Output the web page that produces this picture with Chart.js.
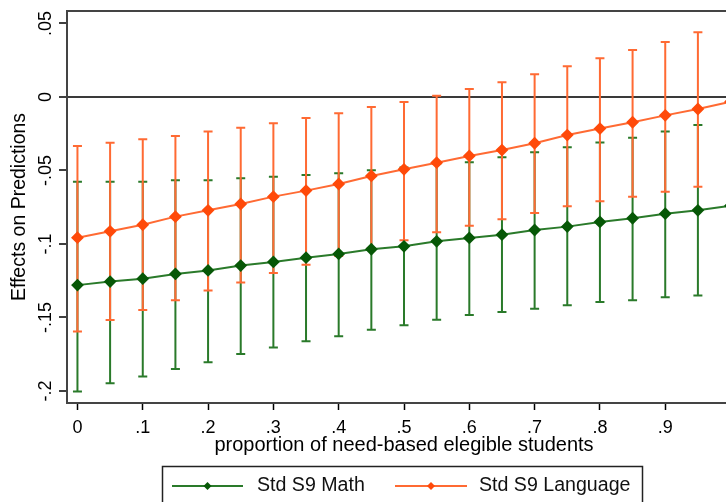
<!DOCTYPE html>
<html>
<head>
<meta charset="utf-8">
<script src="https://cdn.jsdelivr.net/npm/chart.js@4.4.1/dist/chart.umd.min.js"></script>
<style>
  html, body { margin: 0; padding: 0; background: #fff; overflow: hidden; }
  #wrap { width: 750px; height: 502px; }
</style>
</head>
<body>
<div id="wrap"><canvas id="effectsChart" width="750" height="502"></canvas></div>
<script>
// proportion of need-based eligible students (x)
const xValues = [0, 0.05, 0.1, 0.15, 0.2, 0.25, 0.3, 0.35, 0.4, 0.45, 0.5,
                 0.55, 0.6, 0.65, 0.7, 0.75, 0.8, 0.85, 0.9, 0.95, 1];

// Std S9 Math: estimate + CI
const mathEst = [-0.128, -0.1256, -0.1236, -0.1204, -0.118, -0.1147, -0.1122, -0.1093, -0.1068, -0.1036, -0.1016,
                 -0.0982, -0.0959, -0.0937, -0.0905, -0.0882, -0.085, -0.0825, -0.0794, -0.0771, -0.074];
const mathLo  = [-0.2004, -0.1948, -0.1902, -0.185, -0.1805, -0.1748, -0.1705, -0.1662, -0.1628, -0.1583, -0.1553,
                 -0.1515, -0.1483, -0.1463, -0.144, -0.1417, -0.1395, -0.1383, -0.1363, -0.1351, -0.1342];
const mathHi  = [-0.0576, -0.0576, -0.0576, -0.0567, -0.0567, -0.0553, -0.0542, -0.0531, -0.0519, -0.0499, -0.048,
                 -0.0456, -0.0444, -0.041, -0.0376, -0.0342, -0.031, -0.0277, -0.0234, -0.019, -0.0145];

// Std S9 Language: estimate + CI
const langEst = [-0.0957, -0.0914, -0.0869, -0.0814, -0.0771, -0.0728, -0.0678, -0.0637, -0.0592, -0.0537, -0.0492,
                 -0.0447, -0.0401, -0.0361, -0.0315, -0.0259, -0.0215, -0.0172, -0.0125, -0.0082, -0.0032];
const langLo  = [-0.1596, -0.1517, -0.1449, -0.1383, -0.1317, -0.1263, -0.1197, -0.1141, -0.1082, -0.1028, -0.0975,
                 -0.092, -0.0876, -0.0832, -0.0789, -0.0744, -0.071, -0.0678, -0.0644, -0.061, -0.0578];
const langHi  = [-0.0333, -0.0311, -0.0288, -0.0265, -0.0234, -0.0209, -0.0179, -0.0143, -0.0111, -0.0068, -0.0034,
                 0.0009, 0.0054, 0.01, 0.0154, 0.0209, 0.0263, 0.032, 0.0374, 0.044, 0.0497];

const xTickValues = [0, 0.1, 0.2, 0.3, 0.4, 0.5, 0.6, 0.7, 0.8, 0.9, 1];
const xTickLabels = ['0', '.1', '.2', '.3', '.4', '.5', '.6', '.7', '.8', '.9', '1'];
const yTickValues = [-0.2, -0.15, -0.1, -0.05, 0, 0.05];
const yTickLabels = ['-.2', '-.15', '-.1', '-.05', '0', '.05'];

const FONT = "'Liberation Sans', Arial, sans-serif";
const GREEN = '#2a7a2a', GREEN_DARK = '#075807';
const ORANGE = '#ff6a33', ORANGE_DARK = '#ff4a0a';

Chart.defaults.font.family = FONT;
Chart.defaults.color = '#000';

// confidence interval caps, drawn under the lines
const errorBars = {
  id: 'errorBars',
  beforeDatasetsDraw(chart) {
    const { ctx, chartArea: a, scales: { x, y } } = chart;
    ctx.save();
    // plot frame
    ctx.strokeStyle = '#444';
    ctx.lineWidth = 2;
    ctx.strokeRect(a.left, a.top, a.right - a.left, a.bottom - a.top);
    chart.data.datasets.forEach(ds => {
      ctx.strokeStyle = ds.borderColor;
      ctx.lineWidth = 2;
      ds.data.forEach((p, i) => {
        const px = x.getPixelForValue(p.x);
        const lo = y.getPixelForValue(ds.ciLow[i]);
        const hi = y.getPixelForValue(ds.ciHigh[i]);
        ctx.beginPath();
        ctx.moveTo(px, lo); ctx.lineTo(px, hi);
        ctx.moveTo(px - 4.5, lo); ctx.lineTo(px + 4.5, lo);
        ctx.moveTo(px - 4.5, hi); ctx.lineTo(px + 4.5, hi);
        ctx.stroke();
      });
    });
    ctx.restore();
  },
  afterDraw(chart) {
    const { ctx, scales: { y } } = chart;
    ctx.save();
    // rotated y tick labels
    ctx.font = '18px ' + FONT;
    ctx.fillStyle = '#000';
    ctx.textAlign = 'center';
    ctx.textBaseline = 'alphabetic';
    yTickValues.forEach((v, i) => {
      ctx.save();
      ctx.translate(51, y.getPixelForValue(v));
      ctx.rotate(-Math.PI / 2);
      ctx.fillText(yTickLabels[i], 0, 0);
      ctx.restore();
    });

    // legend box
    ctx.strokeStyle = '#222';
    ctx.lineWidth = 1.5;
    ctx.strokeRect(162.5, 466.5, 480, 45);
    const items = [{ x0: 172, x1: 243, tx: 257 }, { x0: 395, x1: 467, tx: 479 }];
    ctx.font = '19.6px ' + FONT;
    ctx.textAlign = 'left';
    ctx.textBaseline = 'middle';
    chart.data.datasets.forEach((ds, i) => {
      const it = items[i], ly = 486, mx = (it.x0 + it.x1) / 2;
      ctx.strokeStyle = ds.borderColor;
      ctx.lineWidth = 2;
      ctx.beginPath(); ctx.moveTo(it.x0, ly); ctx.lineTo(it.x1, ly); ctx.stroke();
      ctx.fillStyle = ds.pointBackgroundColor;
      ctx.beginPath();
      ctx.moveTo(mx, ly - 4); ctx.lineTo(mx + 4, ly); ctx.lineTo(mx, ly + 4); ctx.lineTo(mx - 4, ly);
      ctx.closePath(); ctx.fill();
      ctx.fillStyle = '#111';
      ctx.fillText(ds.label, it.tx, ly);
    });
    ctx.restore();
  }
};

const ctx = document.getElementById('effectsChart').getContext('2d');
new Chart(ctx, {
  type: 'line',
  data: {
    datasets: [{
      label: 'Std S9 Math',
      data: xValues.map((v, i) => ({ x: v, y: mathEst[i] })),
      ciLow: mathLo, ciHigh: mathHi,
      borderColor: GREEN,
      pointBackgroundColor: GREEN_DARK,
      pointBorderColor: GREEN_DARK,
      pointStyle: 'rectRot',
      pointRadius: 5,
      borderWidth: 2,
      tension: 0
    }, {
      label: 'Std S9 Language',
      data: xValues.map((v, i) => ({ x: v, y: langEst[i] })),
      ciLow: langLo, ciHigh: langHi,
      borderColor: ORANGE,
      pointBackgroundColor: ORANGE_DARK,
      pointBorderColor: ORANGE_DARK,
      pointStyle: 'rectRot',
      pointRadius: 5,
      borderWidth: 2,
      tension: 0
    }]
  },
  options: {
    responsive: false,
    animation: false,
    layout: { padding: { top: 11, right: 9, left: 0, bottom: 44 } },
    plugins: { legend: { display: false }, tooltip: { enabled: false } },
    scales: {
      x: {
        type: 'linear',
        min: -0.016, max: 1.016,
        afterBuildTicks: s => { s.ticks = xTickValues.map(v => ({ value: v })); },
        afterFit: s => { s.height = 55; },
        ticks: {
          callback: v => xTickLabels[xTickValues.indexOf(v)],
          font: { size: 18 }, padding: 7, maxRotation: 0, autoSkip: false
        },
        grid: { drawOnChartArea: false, tickLength: 7, tickColor: '#000', tickWidth: 1.5 },
        border: { color: '#000', width: 2 },
        title: {
          display: true, text: 'proportion of need-based elegible students',
          font: { size: 20 }, padding: { top: 0, bottom: 1 }
        }
      },
      y: {
        type: 'linear',
        min: -0.2082, max: 0.0585,
        afterBuildTicks: s => { s.ticks = yTickValues.map(v => ({ value: v })); },
        afterFit: s => { s.width = 67; },
        ticks: { display: false },
        grid: {
          color: c => (c.tick && c.tick.value === 0 ? '#3a3a3a' : 'rgba(0,0,0,0)'),
          lineWidth: 2, tickLength: 8, tickColor: '#000', tickWidth: 1.5
        },
        border: { color: '#000', width: 2 },
        title: {
          display: true, text: 'Effects on Predictions',
          font: { size: 19.5 }, padding: { top: 8.3, bottom: 0 }
        }
      }
    }
  },
  plugins: [errorBars]
});
</script>
</body>
</html>
